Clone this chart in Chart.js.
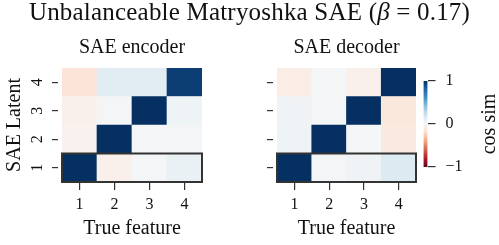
<!DOCTYPE html>
<html>
<head>
<meta charset="utf-8">
<script src="https://cdn.jsdelivr.net/npm/chart.js@4.4.1/dist/chart.umd.min.js"></script>
<style>
  html, body { margin: 0; padding: 0; background: #fff; }
  #wrap { position: relative; width: 499px; height: 245px; overflow: hidden; }
  #mainTitle { position: absolute; left: 0; top: 0; width: 499px; text-align: center;
    font-family: 'Liberation Serif', serif; font-size: 25px; line-height: 24px; letter-spacing: 0.2px; color: #111; white-space: nowrap; z-index: 5; }
  .box { position: absolute; top: 0; }
  canvas { display: block; }
</style>
</head>
<body>
<div id="wrap">
  <div id="mainTitle">Unbalanceable Matryoshka SAE (<i>β</i> = 0.17)</div>
  <div class="box" style="left:0px;width:232px;height:245px"><canvas id="enc" width="232" height="245"></canvas></div>
  <div class="box" style="left:232px;width:186px;height:245px"><canvas id="dec" width="186" height="245"></canvas></div>
  <div class="box" style="left:418px;width:81px;height:245px"><canvas id="cbar" width="81" height="245"></canvas></div>
</div>
<script>
// ---------------- data ----------------
const features = ['1', '2', '3', '4'];          // True feature (x)
const latents = ['1', '2', '3', '4'];           // SAE Latent (y, bottom to top)

const encoderLatent1 = [1.00, -0.05, 0.02, 0.07];
const encoderLatent2 = [-0.04, 1.00, 0.01, 0.02];
const encoderLatent3 = [-0.05, 0.02, 1.00, 0.05];
const encoderLatent4 = [-0.13, 0.11, 0.11, 0.95];

const decoderLatent1 = [1.00, 0.02, 0.04, 0.14];
const decoderLatent2 = [0.05, 1.00, 0.01, -0.10];
const decoderLatent3 = [0.04, 0.02, 1.00, -0.11];
const decoderLatent4 = [-0.07, 0.01, -0.05, 1.00];

const colorbarTicks = [-1, 0, 1];
const highlightedLatent = 1;

// ---------------- colormap (RdBu) ----------------
const RDBU = [
  [103, 0, 31], [178, 24, 43], [214, 96, 77], [244, 165, 130], [253, 219, 199],
  [247, 247, 247], [209, 229, 240], [146, 197, 222], [67, 147, 195], [33, 102, 172], [5, 48, 97]
];
function rdbu(v) {
  const t = Math.max(0, Math.min(1, (v + 1) / 2)) * (RDBU.length - 1);
  const i = Math.min(RDBU.length - 2, Math.floor(t));
  const f = t - i;
  const a = RDBU[i], b = RDBU[i + 1];
  const c = a.map((x, k) => Math.round(x + (b[k] - x) * f));
  return `rgb(${c[0]},${c[1]},${c[2]})`;
}

Chart.defaults.font.family = "'Liberation Serif', serif";
Chart.defaults.color = '#111';

const TICK_COLOR = '#333';

const highlightPlugin = {
  id: 'highlightRow',
  afterDatasetsDraw(chart) {
    const { ctx, chartArea, scales } = chart;
    const yTop = scales.y.getPixelForValue(highlightedLatent);
    const yBot = scales.y.getPixelForValue(highlightedLatent - 1);
    ctx.save();
    ctx.strokeStyle = '#333';
    ctx.lineWidth = 2;
    ctx.strokeRect(chartArea.left, yTop, chartArea.right - chartArea.left, yBot - yTop);
    ctx.restore();
  }
};

function heatmap(canvasId, rows, title, showY, padRight) {
  const datasets = rows.map((vals, r) => ({
    label: 'Latent ' + latents[r],
    data: vals.map(() => 1),
    backgroundColor: vals.map(rdbu),
    borderWidth: 0,
    barPercentage: 1,
    categoryPercentage: 1
  }));
  return new Chart(document.getElementById(canvasId), {
    type: 'bar',
    data: { labels: features, datasets },
    plugins: [highlightPlugin],
    options: {
      responsive: false,
      animation: false,
      layout: { padding: { left: 0, right: padRight, top: 0, bottom: 0 } },
      plugins: {
        legend: { display: false },
        tooltip: { enabled: false },
        title: {
          display: true, text: title, fullSize: false,
          font: { size: 20, weight: 'normal' }, color: '#111',
          padding: { top: 35.5, bottom: 8.5 }
        }
      },
      scales: {
        x: {
          stacked: true,
          border: { display: false },
          grid: { display: true, drawOnChartArea: false, offset: false, tickLength: 8, color: TICK_COLOR, lineWidth: 1.2 },
          ticks: { font: { size: 16 }, color: '#111', padding: 5, maxRotation: 0 },
          title: { display: true, text: 'True feature', font: { size: 20 }, color: '#111', padding: { top: 0, bottom: 4.5 } },
          afterFit(s) { s.height = 63; }
        },
        y: {
          stacked: true, min: 0, max: 4,
          border: { display: false },
          afterBuildTicks(s) { s.ticks = latents.map((_, i) => ({ value: i + 0.5 })); },
          grid: { display: true, drawOnChartArea: false, tickLength: 10, tickBorderDash: [6, 20], color: TICK_COLOR, lineWidth: 1.2 },
          ticks: {
            display: showY, font: { size: 16 }, color: '#111', padding: 10.5,
            minRotation: 90, maxRotation: 90, crossAlign: 'center',
            callback: (v, i) => latents[i]
          },
          title: { display: showY, text: 'SAE Latent', font: { size: 20 }, color: '#111', padding: { top: 3, bottom: 0 } },
          afterFit(s) { s.width = showY ? 62 : 45; }
        }
      }
    }
  });
}

heatmap('enc', [encoderLatent1, encoderLatent2, encoderLatent3, encoderLatent4], 'SAE encoder', true, 30);
heatmap('dec', [decoderLatent1, decoderLatent2, decoderLatent3, decoderLatent4], 'SAE decoder', false, 2);

// ---------------- colorbar ----------------
const cbarLabelPlugin = {
  id: 'cbarLabel',
  afterDraw(chart) {
    const { ctx, chartArea } = chart;
    ctx.save();
    ctx.translate(chart.width - 4, (chartArea.top + chartArea.bottom) / 2);
    ctx.rotate(-Math.PI / 2);
    ctx.font = "20px 'Liberation Serif', serif";
    ctx.fillStyle = '#111';
    ctx.textAlign = 'center';
    ctx.textBaseline = 'alphabetic';
    ctx.fillText('cos sim', 0, 0);
    ctx.restore();
  }
};

new Chart(document.getElementById('cbar'), {
  type: 'bar',
  data: {
    labels: [''],
    datasets: [{
      data: [[colorbarTicks[0], colorbarTicks[colorbarTicks.length - 1]]],
      barPercentage: 1, categoryPercentage: 1, borderWidth: 0,
      backgroundColor(context) {
        const { chart } = context;
        const { ctx, chartArea } = chart;
        if (!chartArea) return '#ccc';
        const g = ctx.createLinearGradient(0, chartArea.bottom, 0, chartArea.top);
        RDBU.forEach((c, i) => g.addColorStop(i / (RDBU.length - 1), `rgb(${c[0]},${c[1]},${c[2]})`));
        return g;
      }
    }]
  },
  plugins: [cbarLabelPlugin],
  options: {
    responsive: false,
    animation: false,
    layout: { padding: { left: 5.5, right: 0, top: 81, bottom: 78 } },
    plugins: { legend: { display: false }, tooltip: { enabled: false } },
    scales: {
      x: { display: false },
      y: {
        position: 'right', min: -1, max: 1,
        border: { display: false },
        afterBuildTicks(s) { s.ticks = colorbarTicks.map(v => ({ value: v })); },
        grid: { display: true, drawOnChartArea: false, tickLength: 8, color: TICK_COLOR, lineWidth: 1.2 },
        ticks: { font: { size: 16 }, color: '#111', padding: 10,
          callback: (v) => (v < 0 ? '\u2212' + Math.abs(v) : String(v)) },
        afterFit(s) { s.width = 71.5; }
      }
    }
  }
});
</script>
</body>
</html>
